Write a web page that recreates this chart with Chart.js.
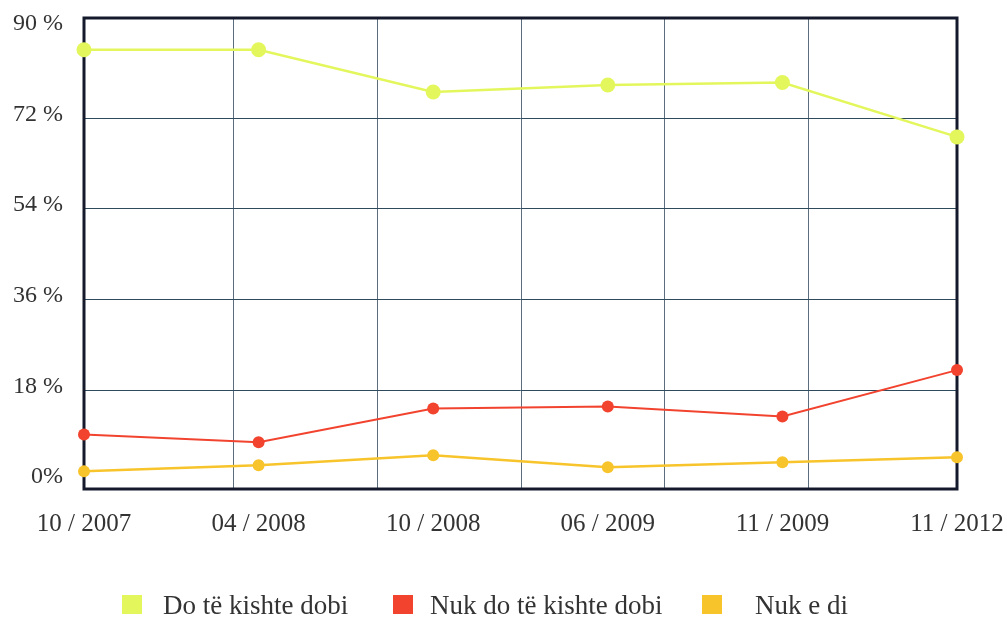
<!DOCTYPE html>
<html>
<head>
<meta charset="utf-8">
<script src="https://cdn.jsdelivr.net/npm/chart.js@4/dist/chart.umd.min.js"></script>
<style>
  html, body { margin: 0; padding: 0; background: #ffffff; }
  #wrap { position: relative; width: 1007px; height: 619px; }
  #legend { position: absolute; left: 0; top: 592px; width: 1007px; height: 27px;
    font-family: "Liberation Serif", "DejaVu Serif", serif; font-size: 27px; color: #333; }
  .li { position: absolute; top: 0; white-space: nowrap; }
  .sw { position: absolute; top: 3px; left: 0; width: 20px; height: 19px; }
  .tx { position: absolute; top: 0; line-height: 27px; }
</style>
</head>
<body>
<div id="wrap">
  <canvas id="c" width="1007" height="619"></canvas>
  <div id="legend"></div>
</div>
<script>
const categories = ["10 / 2007", "04 / 2008", "10 / 2008", "06 / 2009", "11 / 2009", "11 / 2012"];
const seriesNames = ["Do të kishte dobi", "Nuk do të kishte dobi", "Nuk e di"];
const doTeKishteDobi = [85.6, 85.6, 77.2, 78.6, 79.1, 68.3];
const nukDoTeKishteDobi = [9.2, 7.7, 14.4, 14.8, 12.8, 22.0];
const nukEDi = [1.9, 3.1, 5.1, 2.7, 3.7, 4.7];
const yTicks = [0, 18, 36, 54, 72, 90];
const colGridTicks = [1, 2, 3, 4, 5];
const colors = ["#e3f75c", "#f2432f", "#f8c42b"];

const frame = {
  id: 'frame',
  beforeDatasetsDraw(chart) {
    const a = chart.chartArea, ctx = chart.ctx;
    ctx.save();
    ctx.strokeStyle = '#141a2c';
    ctx.lineWidth = 3;
    ctx.strokeRect(a.left, a.top, a.right - a.left, a.bottom - a.top);
    ctx.restore();
  }
};

const serif = '"Liberation Serif", "DejaVu Serif", serif';

new Chart(document.getElementById('c'), {
  type: 'line',
  data: {
    labels: categories,
    datasets: [
      { label: seriesNames[0], data: doTeKishteDobi, borderColor: colors[0], backgroundColor: colors[0],
        borderWidth: 2.5, pointRadius: 7.5, pointBorderWidth: 0, tension: 0, clip: false },
      { label: seriesNames[1], data: nukDoTeKishteDobi, borderColor: colors[1], backgroundColor: colors[1],
        borderWidth: 2, pointRadius: 6, pointBorderWidth: 0, tension: 0, clip: false },
      { label: seriesNames[2], data: nukEDi, borderColor: colors[2], backgroundColor: colors[2],
        borderWidth: 2.5, pointRadius: 6, pointBorderWidth: 0, tension: 0, clip: false }
    ]
  },
  options: {
    responsive: false,
    animation: false,
    layout: { padding: { left: 0, top: 18, right: 50, bottom: 68 } },
    plugins: { legend: { display: false }, tooltip: { enabled: false } },
    scales: {
      x: {
        type: 'category',
        offset: false,
        afterFit: s => { s.paddingLeft = 0; s.paddingRight = 0; },
        grid: { display: false },
        border: { display: false },
        ticks: { color: '#333', font: { family: serif, size: 25 }, padding: 12, maxRotation: 0, autoSkip: false }
      },
      x2: {
        type: 'linear',
        position: 'top',
        min: -0.035, max: 6.028,
        afterBuildTicks: s => { s.ticks = colGridTicks.map(v => ({ value: v })); },
        afterFit: s => { s.height = 0; s.paddingLeft = 0; s.paddingRight = 0; },
        grid: { color: '#5c6d7e', lineWidth: 1, drawTicks: false },
        border: { display: false },
        ticks: { display: false }
      },
      y: {
        min: -1.6, max: 91.9,
        afterBuildTicks: s => { s.ticks = yTicks.map(v => ({ value: v })); },
        afterFit: s => { s.width = 84; s.paddingTop = 0; s.paddingBottom = 0; },
        grid: {
          drawTicks: false,
          lineWidth: 1,
          color: c => (c.tick && (c.tick.value === 0 || c.tick.value === 90)) ? 'rgba(0,0,0,0)' : '#2e4a5c'
        },
        border: { display: false },
        ticks: {
          color: '#333', font: { family: serif, size: 24 }, padding: 21, labelOffset: -4,
          callback: v => v === 0 ? '0%' : v + ' %'
        }
      }
    }
  },
  plugins: [frame]
});

const legend = document.getElementById('legend');
const legendX = [122, 393, 702];
const textGap = [41, 37, 53];
seriesNames.forEach((n, i) => {
  const li = document.createElement('div');
  li.className = 'li';
  li.style.left = legendX[i] + 'px';
  const sw = document.createElement('div');
  sw.className = 'sw';
  sw.style.background = colors[i];
  const tx = document.createElement('div');
  tx.className = 'tx';
  tx.style.left = textGap[i] + 'px';
  tx.textContent = n;
  li.appendChild(sw); li.appendChild(tx);
  legend.appendChild(li);
});
</script>
</body>
</html>
